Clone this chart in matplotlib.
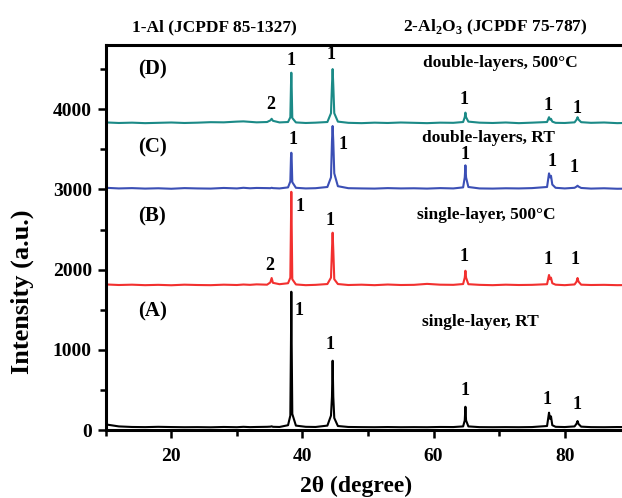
import matplotlib
matplotlib.use('Agg')
import matplotlib.pyplot as plt
from matplotlib.ticker import MultipleLocator

# 2-theta positions (degree) shared by the four patterns
twoTheta = [10, 12, 14, 16, 18, 20, 22, 24, 26, 28,
            30, 31, 32, 33, 34.6, 35.1, 35.3, 35.5, 36.5, 37.8,
            38.15, 38.25, 38.3, 38.35, 38.45, 39.0, 40.5, 42, 43.8, 44.35,
            44.5, 44.6, 44.7, 44.85, 45.4, 47, 49, 51, 53, 55,
            57, 59, 61, 63, 64.5, 64.75, 64.85, 64.95, 65.3, 67,
            69, 71, 73, 75, 77.3, 77.6, 77.75, 77.9, 78.1, 78.6,
            80, 81.5, 81.8, 81.95, 82.1, 82.5, 84, 86, 88, 90]

# (A) single-layer, RT
intensityA = [70, 45, 38, 36, 40, 37, 35, 36, 34, 38,
              35, 40, 36, 38, 40, 42, 46, 40, 38, 60,
              180, 1120, 1724, 1120, 200, 55, 40, 38, 55, 180,
              415, 864, 415, 150, 50, 38, 36, 35, 37, 35,
              36, 35, 38, 37, 45, 120, 290, 120, 45, 36,
              35, 36, 35, 37, 50, 216, 140, 170, 60, 40,
              37, 45, 80, 112, 75, 42, 36, 35, 37, 36]

# (B) single-layer, 500 C
intensityB = [1815, 1808, 1812, 1806, 1810, 1805, 1812, 1808, 1806, 1812,
              1808, 1814, 1810, 1816, 1812, 1840, 1895, 1835, 1818, 1830,
              1900, 2600, 2970, 2600, 1880, 1815, 1806, 1810, 1820, 1900,
              2250, 2460, 2250, 1880, 1820, 1808, 1812, 1806, 1814, 1808,
              1810, 1822, 1812, 1810, 1820, 1900, 1986, 1900, 1818, 1810,
              1806, 1812, 1808, 1810, 1818, 1933, 1880, 1900, 1830, 1812,
              1806, 1815, 1850, 1895, 1850, 1812, 1808, 1810, 1806, 1808]

# (C) double-layers, RT
intensityC = [3020, 3012, 3016, 3010, 3014, 3008, 3016, 3012, 3010, 3018,
              3012, 3020, 3014, 3018, 3016, 3015, 3020, 3016, 3012, 3025,
              3100, 3400, 3457, 3400, 3090, 3020, 3012, 3015, 3030, 3150,
              3600, 3790, 3600, 3200, 3040, 3015, 3012, 3010, 3016, 3012,
              3014, 3010, 3016, 3012, 3025, 3150, 3300, 3150, 3030, 3012,
              3010, 3014, 3012, 3016, 3030, 3200, 3150, 3170, 3060, 3020,
              3012, 3020, 3035, 3046, 3035, 3018, 3010, 3014, 3008, 3010]

# (D) double-layers, 500 C
intensityD = [3835, 3828, 3832, 3826, 3830, 3834, 3828, 3832, 3838, 3836,
              3845, 3848, 3842, 3836, 3840, 3860, 3880, 3855, 3835, 3840,
              3900, 4300, 4455, 4300, 3890, 3835, 3828, 3832, 3840, 3950,
              4300, 4500, 4300, 3950, 3845, 3830, 3826, 3832, 3828, 3834,
              3830, 3826, 3832, 3830, 3840, 3900, 3957, 3900, 3845, 3832,
              3828, 3834, 3826, 3832, 3840, 3900, 3870, 3880, 3845, 3830,
              3828, 3836, 3870, 3900, 3870, 3838, 3830, 3834, 3826, 3830]

panelNames = ['(A)', '(B)', '(C)', '(D)']
sampleNames = ['single-layer, RT', 'single-layer, 500\u00b0C',
               'double-layers, RT', 'double-layers, 500\u00b0C']
traceColors = ['black', '#f2302f', '#3b4fb5', '#1b8a87']

plt.rcParams['font.family'] = ['Liberation Serif', 'DejaVu Serif']
plt.rcParams['font.weight'] = 'bold'
plt.rcParams['mathtext.fontset'] = 'custom'
plt.rcParams['mathtext.rm'] = 'Liberation Serif:bold'
plt.rcParams['mathtext.bf'] = 'Liberation Serif:bold'

fig = plt.figure(figsize=(6.22, 4.98), dpi=100)
ax = fig.add_axes([0.170, 0.1365, 0.8434, 0.7731])

traces = [intensityA, intensityB, intensityC, intensityD]
for ys, c in zip(traces, traceColors):
  ax.plot(twoTheta, ys, color=c, linewidth=1.5)

ax.set_xlim(10, 90)
ax.set_ylim(0, 4800)
ax.xaxis.set_major_locator(MultipleLocator(20))
ax.xaxis.set_minor_locator(MultipleLocator(10))
ax.yaxis.set_major_locator(MultipleLocator(1000))
ax.yaxis.set_minor_locator(MultipleLocator(500))
ax.tick_params(which='both', direction='out', width=1.8, labelsize=14, top=False, right=False)
ax.tick_params(which='major', length=6)
ax.tick_params(axis='x', which='major', pad=7)
ax.tick_params(axis='y', which='major', pad=4)
ax.tick_params(which='minor', length=4)
for s in ax.spines.values():
  s.set_linewidth(2.2)

ax.set_xlabel('2\u03b8 (degree)', fontsize=17, fontweight='bold')
ax.set_ylabel('Intensity (a.u.)', fontsize=19, fontweight='bold')
ax.xaxis.set_label_coords(0.478, -0.118)
ax.yaxis.set_label_coords(-0.137, 0.36)

# panel letters and sample names
panelY = [1484, 2660, 3525, 4501]
sampleXY = [(67.1, 1350), (68.1, 2681), (68.35, 3641), (70.2, 4576)]
for name, y in zip(panelNames, panelY):
  ax.text(17.1, y, name, fontsize=15, ha='center', va='center')
for name, (x, y) in zip(sampleNames, sampleXY):
  ax.text(x, y, name, fontsize=12.5, ha='center', va='center')

# phase labels above the peaks
peakLabels = [
  (35.15, 4060, '2'), (38.27, 4605, '1'), (44.33, 4688, '1'), (64.7, 4115, '1'), (77.4, 4044, '1'), (81.86, 4011, '1'),
  (38.53, 3625, '1'), (46.26, 3554, '1'), (64.74, 3441, '1'), (78.08, 3345, '1'), (81.41, 3271, '1'),
  (35.0, 2057, '2'), (39.7, 2784, '1'), (44.24, 2606, '1'), (64.7, 2161, '1'), (77.47, 2120, '1'), (81.6, 2120, '1'),
  (39.55, 1496, '1'), (44.14, 1072, '1'), (64.79, 490, '1'), (77.3, 383, '1'), (81.86, 312, '1'),
]
for x, y, t in peakLabels:
  ax.text(x, y, t, fontsize=13, ha='center', va='center')

fig.text(0.344, 0.946, '1-Al (JCPDF 85-1327)', fontsize=12.5, ha='center', va='center')
fig.text(0.797, 0.946, r'2-Al$_\mathbf{2}$O$_\mathbf{3}$ (JCPDF 75-787)', fontsize=12.5, ha='center', va='center')

fig.savefig('out.png', dpi=100)
